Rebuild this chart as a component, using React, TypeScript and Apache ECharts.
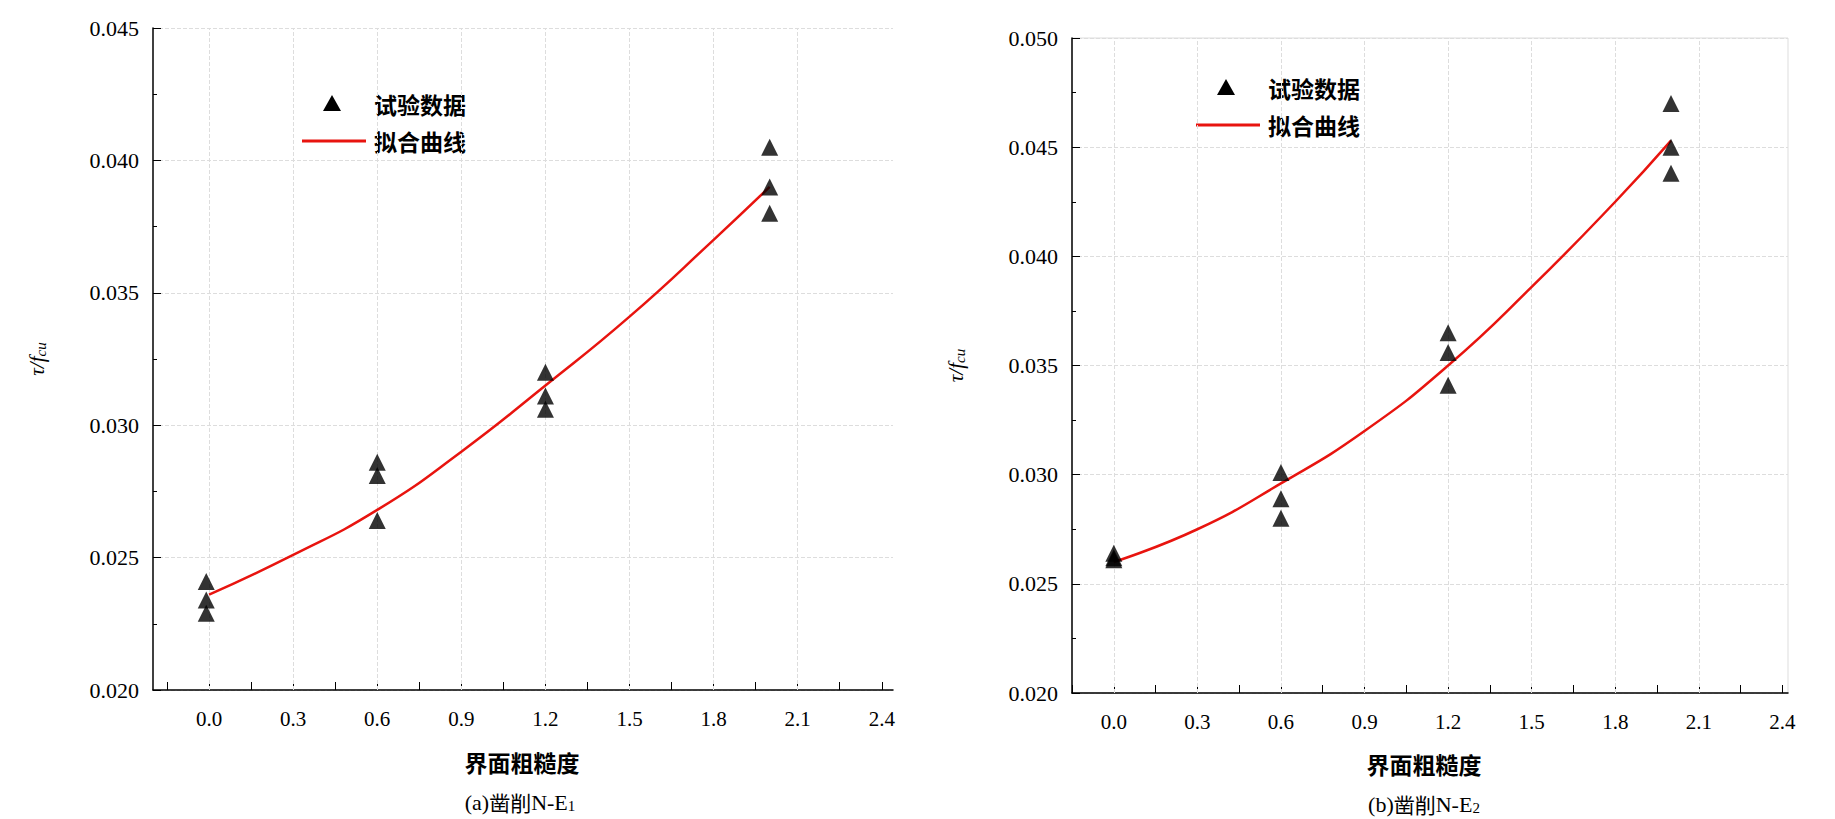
import React, { useEffect, useRef } from "react";
import * as echarts from "echarts";

// 试验数据 (a)
const xA = [-0.01, -0.01, -0.01, 0.6, 0.6, 0.6, 1.2, 1.2, 1.2, 2.0, 2.0, 2.0];
const yA = [0.0241, 0.0234, 0.0229, 0.0286, 0.0281, 0.0264, 0.032, 0.0311, 0.0306, 0.0405, 0.039, 0.038];
// 试验数据 (b)
const xB = [0, 0, 0, 0.6, 0.6, 0.6, 1.2, 1.2, 1.2, 2.0, 2.0, 2.0];
const yB = [0.0264, 0.0262, 0.0261, 0.0301, 0.0289, 0.028, 0.0365, 0.0356, 0.0341, 0.047, 0.045, 0.0438];
// 拟合曲线
const fitX = [0, 0.3, 0.6, 0.9, 1.2, 1.5, 1.8, 2.0];
const fitA = [0.0236, 0.0251, 0.0268, 0.029, 0.0315, 0.0341, 0.037, 0.039];
const fitB = [0.026, 0.0275, 0.0296, 0.032, 0.035, 0.0386, 0.0425, 0.0453];
const xTicks = [0, 0.3, 0.6, 0.9, 1.2, 1.5, 1.8, 2.1, 2.4];
const xGridVals = [0, 0.3, 0.6, 0.9, 1.2, 1.5, 1.8, 2.1];

const serif = "Liberation Serif";
const cjk = "Noto Sans CJK SC";
const red = "#e8140f";

const pairs = (xs: number[], ys: number[]) => xs.map((x, i) => [x, ys[i]]);

export default function App() {
  const ref = useRef<HTMLDivElement>(null);

  useEffect(() => {
    document.body.style.margin = "0";
    if (!ref.current) return;
    const chart = echarts.init(ref.current, null, { renderer: "svg" });

    const xAxis = (gridIndex: number, min: number, max: number) => ({
      gridIndex,
      type: "value",
      min,
      max,
      axisLine: { onZero: false, lineStyle: { color: "#000", width: 1.5 } },
      axisTick: {
        inside: true,
        length: 8,
        customValues: [-0.15, 0, 0.15, 0.3, 0.45, 0.6, 0.75, 0.9, 1.05, 1.2, 1.35, 1.5, 1.65, 1.8, 1.95, 2.1, 2.25, 2.4].filter(
          (v) => v >= min
        ),
        lineStyle: { color: "#000" },
      },
      axisLabel: {
        customValues: xTicks,
        formatter: (v: number) => v.toFixed(1),
        color: "#000",
        fontFamily: serif,
        fontSize: 21,
        margin: 18,
      },
      splitLine: { show: false },
    });

    const yAxis = (gridIndex: number, max: number) => ({
      gridIndex,
      type: "value",
      min: 0.02,
      max,
      interval: 0.005,
      axisLine: { show: true, onZero: false, lineStyle: { color: "#000", width: 1.5 } },
      axisTick: { inside: true, length: 8, lineStyle: { color: "#000" } },
      minorTick: { show: true, splitNumber: 2, length: 4, lineStyle: { color: "#000" } },
      axisLabel: {
        formatter: (v: number) => v.toFixed(3),
        color: "#000",
        fontFamily: serif,
        fontSize: 22,
        margin: 14,
      },
      splitLine: { show: true, lineStyle: { color: "#ddd", type: "dashed" } },
      name: "{t|τ/}{f|f}{s|cu}",
      nameLocation: "middle",
      nameGap: 105,
      nameTextStyle: {
        rich: {
          t: { fontFamily: serif, fontStyle: "italic", fontSize: 21, color: "#000" },
          f: { fontFamily: serif, fontStyle: "italic", fontSize: 21, color: "#000" },
          s: { fontFamily: serif, fontStyle: "italic", fontSize: 15, color: "#000", verticalAlign: "bottom", padding: [8, 0, 0, 0] },
        },
      },
    });

    const gridSeries = (i: number) => ({
      type: "line",
      xAxisIndex: i,
      yAxisIndex: i,
      data: [],
      z: 0,
      silent: true,
      markLine: {
        silent: true,
        symbol: "none",
        label: { show: false },
        lineStyle: { color: "#ddd", type: "dashed", width: 1 },
        data: xGridVals.map((v) => ({ xAxis: v })),
      },
    });

    const scatter = (i: number, data: number[][]) => ({
      name: "试验数据",
      type: "scatter",
      xAxisIndex: i,
      yAxisIndex: i,
      symbol: "triangle",
      symbolSize: 17,
      itemStyle: { color: "#000" },
      data,
      z: 10,
    });
    const fit = (i: number, ys: number[]) => ({
      name: "拟合曲线",
      type: "line",
      xAxisIndex: i,
      yAxisIndex: i,
      smooth: true,
      showSymbol: false,
      symbol: "none",
      lineStyle: { color: red, width: 2.5 },
      data: pairs(fitX, ys),
      z: 5,
    });

    const legendFont = `bold 23px "${cjk}"`;
    const legend = (x: number, y: number) => [
      { type: "polygon", shape: { points: [[x + 30, y - 9], [x + 39, y + 7], [x + 21, y + 7]] }, style: { fill: "#000" } },
      { type: "text", x: x + 72, y, style: { text: "试验数据", font: legendFont, fill: "#000", textVerticalAlign: "middle" } },
      { type: "line", shape: { x1: x, y1: y + 37, x2: x + 64, y2: y + 37 }, style: { stroke: red, lineWidth: 3 } },
      { type: "text", x: x + 72, y: y + 37, style: { text: "拟合曲线", font: legendFont, fill: "#000", textVerticalAlign: "middle" } },
    ];

    const capRich = {
      a: { fontFamily: serif, fontSize: 22, color: "#000" },
      c: { fontFamily: cjk, fontSize: 21, color: "#000" },
      s: { fontFamily: serif, fontSize: 15, color: "#000", verticalAlign: "bottom", padding: [8, 0, 0, 0] },
    };

    chart.setOption({
      animation: false,
      backgroundColor: "#fff",
      grid: [
        { left: 153, width: 740, top: 28, bottom: 129 },
        { left: 1072, right: 47, top: 38, bottom: 126, show: true, borderColor: "#ddd", borderWidth: 1 },
      ],
      xAxis: [xAxis(0, -0.2, 2.44), xAxis(1, -0.15, 2.42)],
      yAxis: [yAxis(0, 0.045), yAxis(1, 0.05)],
      series: [
        gridSeries(0),
        gridSeries(1),
        scatter(0, pairs(xA, yA)),
        fit(0, fitA),
        scatter(1, pairs(xB, yB)),
        fit(1, fitB),
      ],
      graphic: [
        ...legend(302, 104),
        ...legend(1196, 88),
        { type: "text", x: 522, y: 762, style: { text: "界面粗糙度", font: `bold 23px "${cjk}"`, fill: "#000", textAlign: "center", textVerticalAlign: "middle" } },
        { type: "text", x: 1424, y: 764, style: { text: "界面粗糙度", font: `bold 23px "${cjk}"`, fill: "#000", textAlign: "center", textVerticalAlign: "middle" } },
        { type: "text", x: 520, y: 802, style: { text: "{a|(a)}{c|凿削}{a|N-E}{s|1}", rich: capRich, textAlign: "center", textVerticalAlign: "middle" } },
        { type: "text", x: 1424, y: 804, style: { text: "{a|(b)}{c|凿削}{a|N-E}{s|2}", rich: capRich, textAlign: "center", textVerticalAlign: "middle" } },
      ],
    });
    return () => chart.dispose();
  }, []);

  return <div ref={ref} style={{ width: 1835, height: 819 }} />;
}
